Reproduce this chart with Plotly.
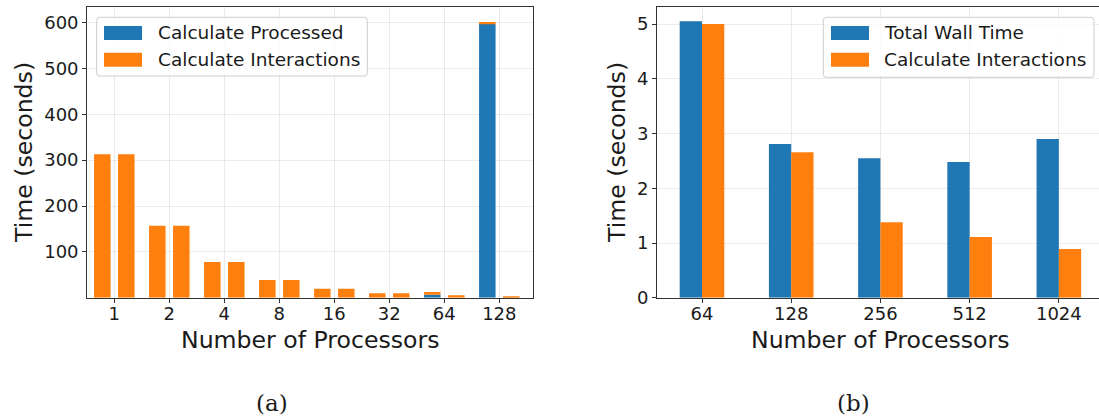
import plotly.graph_objects as go

# ---- data -------------------------------------------------------------
procs_a = ["1", "2", "4", "8", "16", "32", "64", "128"]
processed_a = [0, 0, 0, 0, 0, 0, 6.5, 597]
interactions_a_left = [313, 157, 78, 39, 19.5, 10, 6, 4]
interactions_a_right = [313, 157, 78, 39, 19.5, 10, 5.5, 3]

procs_b = ["64", "128", "256", "512", "1024"]
wall_time_b = [5.05, 2.81, 2.55, 2.48, 2.90]
interactions_b = [5.00, 2.66, 1.38, 1.11, 0.89]

yticks_a = [100, 200, 300, 400, 500, 600]
yticks_b = [0, 1, 2, 3, 4, 5]

# ---- style ------------------------------------------------------------
W, H = 1099, 417
BLUE = "#1f77b4"
ORANGE = "#ff7f0e"
SPINE = "#333333"
GRID = "rgba(0,0,0,0.08)"
TXT = "#1a1a1a"
FONT = "DejaVu Sans"


def px(x):
    return x / W


def py(y):
    return 1 - y / H


fig = go.Figure()

idx_a = list(range(len(procs_a)))
idx_b = list(range(len(procs_b)))

# (a) left bars: processed with interactions stacked on top
fig.add_trace(go.Bar(x=idx_a, y=processed_a, base=0, offset=-0.368, width=0.3,
                     marker=dict(color=BLUE, line_width=0), xaxis="x", yaxis="y",
                     name="Calculate Processed", showlegend=False))
fig.add_trace(go.Bar(x=idx_a, y=interactions_a_left, base=processed_a, offset=-0.368, width=0.3,
                     marker=dict(color=ORANGE, line_width=0), xaxis="x", yaxis="y",
                     name="Calculate Interactions", showlegend=False))
# (a) right bars
fig.add_trace(go.Bar(x=idx_a, y=interactions_a_right, base=0, offset=0.068, width=0.3,
                     marker=dict(color=ORANGE, line_width=0), xaxis="x", yaxis="y",
                     name="Calculate Interactions", showlegend=False))

# (b) grouped bars
fig.add_trace(go.Bar(x=idx_b, y=wall_time_b, base=0, offset=-0.25, width=0.25,
                     marker=dict(color=BLUE, line_width=0), xaxis="x2", yaxis="y2",
                     name="Total Wall Time", showlegend=False))
fig.add_trace(go.Bar(x=idx_b, y=interactions_b, base=0, offset=0.0, width=0.25,
                     marker=dict(color=ORANGE, line_width=0), xaxis="x2", yaxis="y2",
                     name="Calculate Interactions", showlegend=False))

top_px, bot_px = 7.3, 297.8
ydom = [py(bot_px), py(top_px)]

axis_common = dict(
    showline=True, linecolor=SPINE, linewidth=1.3,
    ticks="outside", ticklen=4, tickwidth=1.1, tickcolor=SPINE,
    showgrid=True, gridcolor=GRID, gridwidth=1,
    zeroline=False, automargin=False,
    tickfont=dict(family=FONT, size=18, color=TXT),
)

fig.update_layout(
    template="none",
    width=W, height=H, autosize=False,
    margin=dict(l=0, r=0, t=0, b=0, pad=0),
    paper_bgcolor="white", plot_bgcolor="white",
    barmode="overlay",
    xaxis=dict(domain=[px(87.3), px(533.3)], range=[-0.491, 7.618],
               tickmode="array", tickvals=idx_a, ticktext=procs_a,
               anchor="y", mirror=True, ticklabelstandoff=-5, **axis_common),
    yaxis=dict(domain=ydom, range=[0, 632.9],
               tickmode="array", tickvals=yticks_a,
               anchor="x", mirror=True, **axis_common),
    xaxis2=dict(domain=[px(657.3), 1.0], range=[-0.501, 4.45],
                tickmode="array", tickvals=idx_b, ticktext=procs_b,
                anchor="y2", mirror=True, ticklabelstandoff=-5, **axis_common),
    yaxis2=dict(domain=ydom, range=[0, 5.305],
                tickmode="array", tickvals=yticks_b,
                anchor="x2", mirror=False, **axis_common),
)

shapes = []
annotations = []

# axis titles
TITLE_SIZE = 23.6
for cx in (310.3, 880.3):
    annotations.append(dict(x=px(cx), y=py(340), xref="paper", yref="paper",
                            text="Number of Processors", showarrow=False,
                            xanchor="center", yanchor="middle",
                            font=dict(family=FONT, size=TITLE_SIZE, color=TXT)))
for cx in (24.5, 617.5):
    annotations.append(dict(x=px(cx), y=py(152.5), xref="paper", yref="paper",
                            text="Time (seconds)", showarrow=False, textangle=-90,
                            xanchor="center", yanchor="middle",
                            font=dict(family=FONT, size=TITLE_SIZE, color=TXT)))

# panel captions
for cx, lab in ((271.7, "(a)"), (853.3, "(b)")):
    annotations.append(dict(x=px(cx), y=py(403), xref="paper", yref="paper",
                            text=lab, showarrow=False,
                            xanchor="center", yanchor="middle",
                            font=dict(family="DejaVu Serif", size=23, color=TXT)))


def rounded_box(x0, y0, x1, y1, r=3):
    p = [
        f"M {px(x0 + r)} {py(y0)}",
        f"L {px(x1 - r)} {py(y0)}",
        f"Q {px(x1)} {py(y0)} {px(x1)} {py(y0 + r)}",
        f"L {px(x1)} {py(y1 - r)}",
        f"Q {px(x1)} {py(y1)} {px(x1 - r)} {py(y1)}",
        f"L {px(x0 + r)} {py(y1)}",
        f"Q {px(x0)} {py(y1)} {px(x0)} {py(y1 - r)}",
        f"L {px(x0)} {py(y0 + r)}",
        f"Q {px(x0)} {py(y0)} {px(x0 + r)} {py(y0)}",
        "Z",
    ]
    return dict(type="path", path=" ".join(p), xref="paper", yref="paper",
                fillcolor="rgba(255,255,255,0.8)",
                line=dict(color="#cccccc", width=1), layer="above")


def legend(box, sw_x, text_x, entries):
    shapes.append(rounded_box(*box))
    for (label, color), (ya, yb) in zip(entries, ((26, 40), (52.7, 66.7))):
        shapes.append(dict(type="rect", xref="paper", yref="paper",
                           x0=px(sw_x), x1=px(sw_x + 38), y0=py(yb), y1=py(ya),
                           fillcolor=color, line=dict(width=0), layer="above"))
        annotations.append(dict(x=px(text_x), y=py((ya + yb) / 2), xref="paper", yref="paper",
                                text=label, showarrow=False,
                                xanchor="left", yanchor="middle",
                                font=dict(family=FONT, size=18.5, color=TXT)))


legend((96.7, 17.3, 367.3, 76.0), 104, 155.5,
       [("Calculate Processed", BLUE), ("Calculate Interactions", ORANGE)])
legend((823.3, 17.3, 1094.0, 77.3), 831, 882,
       [("Total Wall Time", BLUE), ("Calculate Interactions", ORANGE)])

fig.update_layout(shapes=shapes, annotations=annotations)

fig.write_html("out.html")
